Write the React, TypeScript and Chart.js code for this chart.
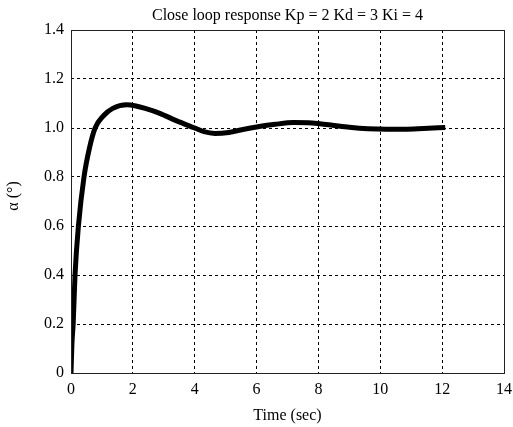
import React, { useEffect, useRef } from "react";
import { Chart, registerables } from "chart.js";

Chart.register(...registerables);

const titleText = "Close loop response Kp = 2 Kd = 3 Ki = 4";
const xTitle = "Time (sec)";
const yTitle = "α (°)";
const xTicks = [0, 2, 4, 6, 8, 10, 12, 14];
const yTicks = [0, 0.2, 0.4, 0.6, 0.8, 1.0, 1.2, 1.4];

const timeValues = [
  0, 0.03, 0.07, 0.13, 0.24, 0.42, 0.6, 0.78, 1.05, 1.35, 1.8, 2.1, 2.4, 2.87,
  3.4, 4.0, 4.3, 4.65, 5.1, 5.6, 6.0, 6.6, 7.2, 7.8, 8.4, 9.0, 9.6, 10.2, 10.8,
  11.4, 12.1,
];
const alphaValues = [
  0, 0.12, 0.2, 0.4, 0.6, 0.8, 0.92, 1.0, 1.05, 1.08, 1.095, 1.09, 1.08, 1.06,
  1.03, 1.0, 0.985, 0.978, 0.982, 0.995, 1.004, 1.015, 1.022, 1.02, 1.012,
  1.003, 0.997, 0.995, 0.995, 0.998, 1.002,
];

const FONT = "'Liberation Serif', 'Times New Roman', serif";

export default function App() {
  const ref = useRef<HTMLCanvasElement | null>(null);
  useEffect(() => {
    const canvas = ref.current;
    if (!canvas) return;
    const data = timeValues.map((t, i) => ({ x: t, y: alphaValues[i] }));
    const overlay = {
      id: "overlay",
      afterDraw(chart: any) {
        const { ctx, chartArea } = chart;
        ctx.save();
        ctx.strokeStyle = "#222";
        ctx.lineWidth = 1;
        ctx.setLineDash([]);
        ctx.strokeRect(
          Math.round(chartArea.left) + 0.5,
          Math.round(chartArea.top) + 0.5,
          Math.round(chartArea.right - chartArea.left),
          Math.round(chartArea.bottom - chartArea.top)
        );
        ctx.fillStyle = "#000";
        ctx.font = `16px ${FONT}`;
        ctx.textAlign = "center";
        ctx.textBaseline = "middle";
        const cx = (chartArea.left + chartArea.right) / 2;
        ctx.fillText(titleText, cx, 16);
        ctx.fillText(xTitle, cx, 416);
        ctx.translate(14, 196);
        ctx.rotate(-Math.PI / 2);
        ctx.fillText(yTitle, 0, 0);
        ctx.restore();
      },
    };
    const chart = new Chart(canvas, {
      type: "line",
      data: {
        datasets: [
          {
            data,
            borderColor: "#000",
            borderWidth: 5,
            pointRadius: 0,
            fill: false,
            cubicInterpolationMode: "monotone",
          },
        ],
      },
      options: {
        animation: false,
        responsive: false,
        layout: { padding: { top: 30, right: 9, left: 0, bottom: 0 } },
        plugins: {
          legend: { display: false },
          tooltip: { enabled: false },
          title: { display: false },
        },
        scales: {
          x: {
            type: "linear",
            min: 0,
            max: 14,
            afterFit: (s: any) => {
              s.height = 54;
              s.paddingRight = 0;
              s.paddingLeft = 0;
            },
            afterBuildTicks: (s: any) => {
              s.ticks = xTicks.map((v) => ({ value: v }));
            },
            ticks: {
              color: "#000",
              font: { family: FONT, size: 16 },
              padding: 7,
              maxRotation: 0,
              callback: (v: any) => String(v),
            },
            grid: {
              color: "#000",
              lineWidth: 1,
              drawTicks: false,
            },
            border: { display: false, dash: [3, 3] },
          },
          y: {
            type: "linear",
            min: 0,
            max: 1.4,
            afterFit: (s: any) => {
              s.width = 71;
              s.paddingTop = 0;
              s.paddingBottom = 0;
            },
            afterBuildTicks: (s: any) => {
              s.ticks = yTicks.map((v) => ({ value: v }));
            },
            ticks: {
              color: "#000",
              font: { family: FONT, size: 16 },
              padding: 7,
              callback: (v: any) => {
                const n = Number(v);
                return n === 0 ? "0" : n.toFixed(1);
              },
            },
            grid: {
              color: "#000",
              lineWidth: 1,
              drawTicks: false,
            },
            border: { display: false, dash: [3, 3] },
          },
        },
      },
      plugins: [overlay],
    } as any);
    return () => chart.destroy();
  }, []);
  return (
    <div style={{ position: "absolute", left: 0, top: 0, width: 513, height: 427, background: "#fff" }}>
      <canvas ref={ref} width={513} height={427} />
    </div>
  );
}
